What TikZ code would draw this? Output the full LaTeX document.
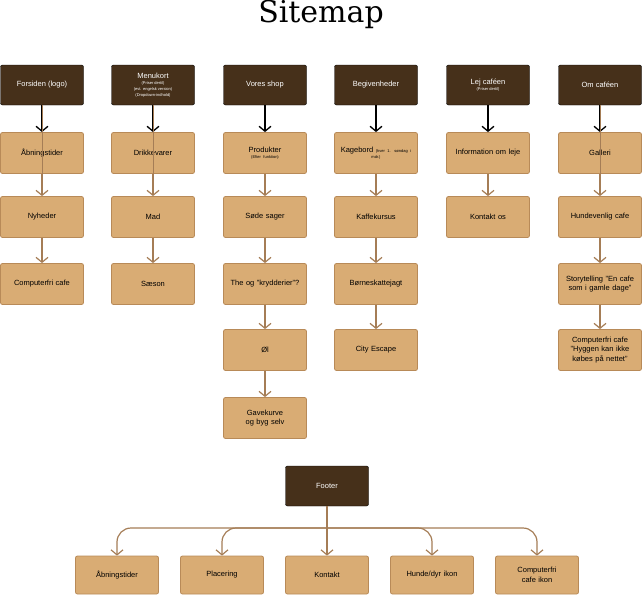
\documentclass[tikz,border=0pt]{standalone}
\usepackage{fontspec}
\setmainfont{Liberation Sans}
\newfontfamily\titlefont{DejaVu Serif}
\usetikzlibrary{arrows.meta,positioning}
\definecolor{darkbrown}{HTML}{46301A}
\definecolor{lightbrown}{HTML}{D9AC74}
\definecolor{edgebrown}{HTML}{B88A58}
\definecolor{linebrown}{HTML}{A57D56}
\newcommand{\smalltxt}[1]{{\fontsize{4}{5}\selectfont #1}}

\begin{document}
\begin{tikzpicture}
  [
   x=1pt,y=-1pt,
   hn/.style={rectangle,rounded corners=2pt,fill=darkbrown,draw=black,text=white,
     minimum width=83pt,minimum height=40pt,align=center,font=\fontsize{7.5}{9}\selectfont},
   pn/.style={rectangle,rounded corners=2pt,fill=lightbrown,draw=edgebrown,thick,
     minimum width=83pt,minimum height=41pt,text width=72pt,align=center,font=\fontsize{7.5}{9.5}\selectfont},
   ka/.style={-{Straight Barb[length=5pt,width=12pt]},line width=1.3pt,black},
   ba/.style={-{Straight Barb[length=5pt,width=12pt]},line width=1.2pt,linebrown}
  ]
  \useasboundingbox (0,0) rectangle (643,595);
  \node[font=\titlefont\fontsize{30}{34}\selectfont] (title) at (321,14) {Sitemap};

  % header row
  \node[hn] (h1) at (42,85) {Forsiden (logo)};
  \node[hn] (h2) at (153,85) {Menukort\\[-3pt]\smalltxt{(Priser dertil)}\\[-3pt]\smalltxt{(evt. engelsk version)}\\[-3pt]\smalltxt{(Dropdown-indhold)}};
  \node[hn] (h3) at (265,85) {Vores shop};
  \node[hn] (h4) at (376,85) {Begivenheder};
  \node[hn] (h5) at (488,85) {Lej caféen\\[-3pt]\smalltxt{(Priser dertil)}};
  \node[hn] (h6) at (600,85) {Om caféen};

  % column 1
  \node[pn] (a1) at (42,153) {Åbningstider};
  \node[pn] (a2) at (42,217) {Nyheder};
  \node[pn] (a3) at (42,284) {Computerfri cafe};
  % column 2
  \node[pn] (b1) at (153,153) {Drikkevarer};
  \node[pn] (b2) at (153,217) {Mad};
  \node[pn] (b3) at (153,284) {Sæson};
  % column 3
  \node[pn] (c1) at (265,153) {Produkter\\[-3pt]\smalltxt{(Efter funktion)}};
  \node[pn] (c2) at (265,217) {Søde sager};
  \node[pn] (c3) at (265,284) {The og ''krydderier''?};
  \node[pn] (c4) at (265,350) {Øl};
  \node[pn] (c5) at (265,418) {Gavekurve og byg selv};
  % column 4
  \node[pn] (d1) at (376,153) {Kagebord \smalltxt{(hver 1. søndag i}\\[-3pt]\smalltxt{mdr.)}};
  \node[pn] (d2) at (376,217) {Kaffekursus};
  \node[pn] (d3) at (376,284) {Børneskattejagt};
  \node[pn] (d4) at (376,350) {City Escape};
  % column 5
  \node[pn] (e1) at (488,153) {Information om leje};
  \node[pn] (e2) at (488,217) {Kontakt os};
  % column 6
  \node[pn] (f1) at (600,153) {Galleri};
  \node[pn] (f2) at (600,217) {Hundevenlig cafe};
  \node[pn] (f3) at (600,284) {Storytelling ''En cafe som i gamle dage''};
  \node[pn] (f4) at (600,350) {Computerfri cafe ''Hyggen kan ikke købes på nettet''};

  \draw[ka] (h1) -- (a1);
  \draw[ka] (h2) -- (b1);
  \draw[ka] (h3) -- (c1);
  \draw[ka] (h4) -- (d1);
  \draw[ka] (h5) -- (e1);
  \draw[ka] (h6) -- (f1);
  \draw[thick,linebrown] (h1.south) -- (a1.south);
  \draw[thick,linebrown] (h2.south) -- (b1.south);
  \draw[thick,linebrown] (h6.south) -- (f1.south);

  \draw[ba] (a1) -- (a2);
  \draw[ba] (a2) -- (a3);
  \draw[ba] (b1) -- (b2);
  \draw[ba] (b2) -- (b3);
  \draw[ba] (c1) -- (c2);
  \draw[ba] (c2) -- (c3);
  \draw[ba] (c3) -- (c4);
  \draw[ba] (c4) -- (c5);
  \draw[ba] (d1) -- (d2);
  \draw[ba] (d2) -- (d3);
  \draw[ba] (d3) -- (d4);
  \draw[ba] (e1) -- (e2);
  \draw[ba] (f1) -- (f2);
  \draw[ba] (f2) -- (f3);
  \draw[ba] (f3) -- (f4);

  % footer
  \node[hn] (foot) at (327,486) {Footer};
  \node[pn,minimum height=38pt] (g1) at (117,575) {Åbningstider};
  \node[pn,minimum height=38pt] (g2) at (222,575) {Placering};
  \node[pn,minimum height=38pt] (g3) at (327,575) {Kontakt};
  \node[pn,minimum height=38pt] (g4) at (432,575) {Hunde/dyr ikon};
  \node[pn,minimum height=38pt] (g5) at (537,575) {Computerfri cafe ikon};
  \coordinate (fork) at (327,528);
  \draw[line width=1.2pt,linebrown] (foot) -- (fork);
  \foreach \i in {1,2,4,5}
    \draw[ba,rounded corners=14pt] (fork) -| (g\i);
  \draw[ba] (fork) -- (g3);
\end{tikzpicture}
\end{document}
